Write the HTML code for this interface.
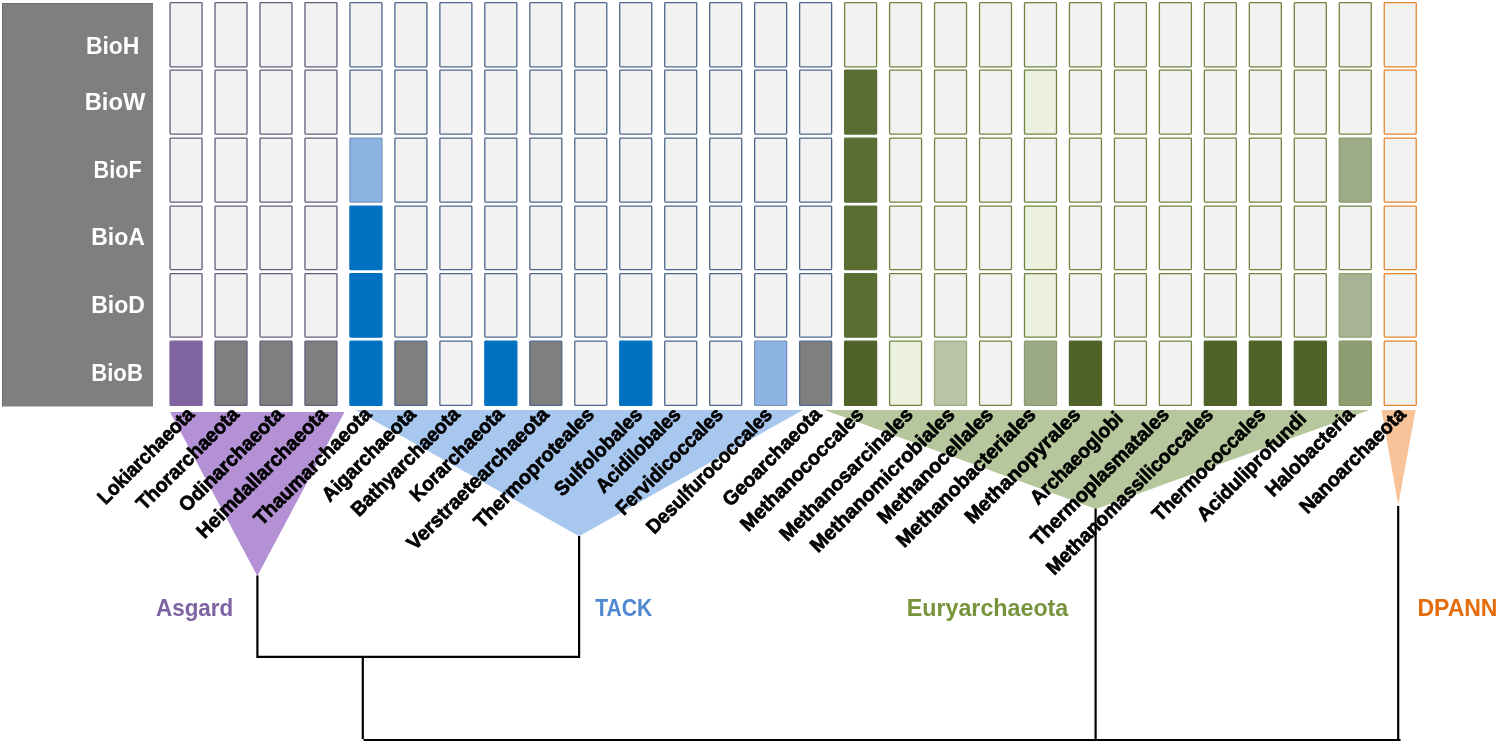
<!DOCTYPE html>
<html lang="en"><head><meta charset="utf-8"><title>Biotin synthesis genes in Archaea</title>
<style>
html,body{margin:0;padding:0;background:#fff;}
body{width:1500px;height:746px;overflow:hidden;}
svg{display:block;}
text{font-family:"Liberation Sans",sans-serif;font-weight:bold;}
.rl{font-size:23px;fill:#fff;}
.cl{font-size:20px;fill:#000;stroke:#000;stroke-width:0.7px;}
.gl{font-size:24.2px;}
</style></head><body>
<svg width="1500" height="746" viewBox="0 0 1500 746">
<rect x="0" y="0" width="1500" height="746" fill="#ffffff"/>
<polygon points="170,412 344.5,412 257.3,576" fill="#b391d4"/>
<polygon points="355.5,410 803,410 579.1,536.2" fill="#a7c7ee"/>
<polygon points="824.5,410 1369.5,410 1096,509" fill="#b7c79d"/>
<polygon points="1381.5,410 1415.6,410 1398.2,505" fill="#f9c39a"/>
<rect x="2" y="3" width="151" height="403.5" fill="#7f7f7f"/>
<path d="M2.5 406.5V3.5H153" fill="none" stroke="#6c6c6c" stroke-width="1"/>
<rect x="170.05" y="2.55" width="32.00" height="64.30" rx="0.8" fill="#f2f2f2" stroke="#675c7d" stroke-width="1.3"/>
<rect x="215.02" y="2.55" width="32.00" height="64.30" rx="0.8" fill="#f2f2f2" stroke="#675c7d" stroke-width="1.3"/>
<rect x="259.99" y="2.55" width="32.00" height="64.30" rx="0.8" fill="#f2f2f2" stroke="#675c7d" stroke-width="1.3"/>
<rect x="304.96" y="2.55" width="32.00" height="64.30" rx="0.8" fill="#f2f2f2" stroke="#675c7d" stroke-width="1.3"/>
<rect x="349.93" y="2.55" width="32.00" height="64.30" rx="0.8" fill="#f2f2f2" stroke="#4e678e" stroke-width="1.3"/>
<rect x="394.90" y="2.55" width="32.00" height="64.30" rx="0.8" fill="#f2f2f2" stroke="#4e678e" stroke-width="1.3"/>
<rect x="439.87" y="2.55" width="32.00" height="64.30" rx="0.8" fill="#f2f2f2" stroke="#4e678e" stroke-width="1.3"/>
<rect x="484.84" y="2.55" width="32.00" height="64.30" rx="0.8" fill="#f2f2f2" stroke="#4e678e" stroke-width="1.3"/>
<rect x="529.81" y="2.55" width="32.00" height="64.30" rx="0.8" fill="#f2f2f2" stroke="#4e678e" stroke-width="1.3"/>
<rect x="574.78" y="2.55" width="32.00" height="64.30" rx="0.8" fill="#f2f2f2" stroke="#4e678e" stroke-width="1.3"/>
<rect x="619.75" y="2.55" width="32.00" height="64.30" rx="0.8" fill="#f2f2f2" stroke="#4e678e" stroke-width="1.3"/>
<rect x="664.72" y="2.55" width="32.00" height="64.30" rx="0.8" fill="#f2f2f2" stroke="#4e678e" stroke-width="1.3"/>
<rect x="709.69" y="2.55" width="32.00" height="64.30" rx="0.8" fill="#f2f2f2" stroke="#4e678e" stroke-width="1.3"/>
<rect x="754.66" y="2.55" width="32.00" height="64.30" rx="0.8" fill="#f2f2f2" stroke="#4e678e" stroke-width="1.3"/>
<rect x="799.63" y="2.55" width="32.00" height="64.30" rx="0.8" fill="#f2f2f2" stroke="#4e678e" stroke-width="1.3"/>
<rect x="844.60" y="2.55" width="32.00" height="64.30" rx="0.8" fill="#f2f2f2" stroke="#72843f" stroke-width="1.3"/>
<rect x="889.57" y="2.55" width="32.00" height="64.30" rx="0.8" fill="#f2f2f2" stroke="#72843f" stroke-width="1.3"/>
<rect x="934.54" y="2.55" width="32.00" height="64.30" rx="0.8" fill="#f2f2f2" stroke="#72843f" stroke-width="1.3"/>
<rect x="979.51" y="2.55" width="32.00" height="64.30" rx="0.8" fill="#f2f2f2" stroke="#72843f" stroke-width="1.3"/>
<rect x="1024.48" y="2.55" width="32.00" height="64.30" rx="0.8" fill="#f2f2f2" stroke="#72843f" stroke-width="1.3"/>
<rect x="1069.45" y="2.55" width="32.00" height="64.30" rx="0.8" fill="#f2f2f2" stroke="#72843f" stroke-width="1.3"/>
<rect x="1114.42" y="2.55" width="32.00" height="64.30" rx="0.8" fill="#f2f2f2" stroke="#72843f" stroke-width="1.3"/>
<rect x="1159.39" y="2.55" width="32.00" height="64.30" rx="0.8" fill="#f2f2f2" stroke="#72843f" stroke-width="1.3"/>
<rect x="1204.36" y="2.55" width="32.00" height="64.30" rx="0.8" fill="#f2f2f2" stroke="#72843f" stroke-width="1.3"/>
<rect x="1249.33" y="2.55" width="32.00" height="64.30" rx="0.8" fill="#f2f2f2" stroke="#72843f" stroke-width="1.3"/>
<rect x="1294.30" y="2.55" width="32.00" height="64.30" rx="0.8" fill="#f2f2f2" stroke="#72843f" stroke-width="1.3"/>
<rect x="1339.27" y="2.55" width="32.00" height="64.30" rx="0.8" fill="#f2f2f2" stroke="#72843f" stroke-width="1.3"/>
<rect x="1384.24" y="2.55" width="32.00" height="64.30" rx="0.8" fill="#f2f2f2" stroke="#e4872f" stroke-width="1.3"/>
<rect x="170.05" y="70.05" width="32.00" height="64.00" rx="0.8" fill="#f2f2f2" stroke="#675c7d" stroke-width="1.3"/>
<rect x="215.02" y="70.05" width="32.00" height="64.00" rx="0.8" fill="#f2f2f2" stroke="#675c7d" stroke-width="1.3"/>
<rect x="259.99" y="70.05" width="32.00" height="64.00" rx="0.8" fill="#f2f2f2" stroke="#675c7d" stroke-width="1.3"/>
<rect x="304.96" y="70.05" width="32.00" height="64.00" rx="0.8" fill="#f2f2f2" stroke="#675c7d" stroke-width="1.3"/>
<rect x="349.93" y="70.05" width="32.00" height="64.00" rx="0.8" fill="#f2f2f2" stroke="#4e678e" stroke-width="1.3"/>
<rect x="394.90" y="70.05" width="32.00" height="64.00" rx="0.8" fill="#f2f2f2" stroke="#4e678e" stroke-width="1.3"/>
<rect x="439.87" y="70.05" width="32.00" height="64.00" rx="0.8" fill="#f2f2f2" stroke="#4e678e" stroke-width="1.3"/>
<rect x="484.84" y="70.05" width="32.00" height="64.00" rx="0.8" fill="#f2f2f2" stroke="#4e678e" stroke-width="1.3"/>
<rect x="529.81" y="70.05" width="32.00" height="64.00" rx="0.8" fill="#f2f2f2" stroke="#4e678e" stroke-width="1.3"/>
<rect x="574.78" y="70.05" width="32.00" height="64.00" rx="0.8" fill="#f2f2f2" stroke="#4e678e" stroke-width="1.3"/>
<rect x="619.75" y="70.05" width="32.00" height="64.00" rx="0.8" fill="#f2f2f2" stroke="#4e678e" stroke-width="1.3"/>
<rect x="664.72" y="70.05" width="32.00" height="64.00" rx="0.8" fill="#f2f2f2" stroke="#4e678e" stroke-width="1.3"/>
<rect x="709.69" y="70.05" width="32.00" height="64.00" rx="0.8" fill="#f2f2f2" stroke="#4e678e" stroke-width="1.3"/>
<rect x="754.66" y="70.05" width="32.00" height="64.00" rx="0.8" fill="#f2f2f2" stroke="#4e678e" stroke-width="1.3"/>
<rect x="799.63" y="70.05" width="32.00" height="64.00" rx="0.8" fill="#f2f2f2" stroke="#4e678e" stroke-width="1.3"/>
<rect x="844.60" y="70.05" width="32.00" height="64.00" rx="0.8" fill="#5a6e34" stroke="#5a6e34" stroke-width="1.3"/>
<rect x="889.57" y="70.05" width="32.00" height="64.00" rx="0.8" fill="#f2f2f2" stroke="#72843f" stroke-width="1.3"/>
<rect x="934.54" y="70.05" width="32.00" height="64.00" rx="0.8" fill="#f2f2f2" stroke="#72843f" stroke-width="1.3"/>
<rect x="979.51" y="70.05" width="32.00" height="64.00" rx="0.8" fill="#f2f2f2" stroke="#72843f" stroke-width="1.3"/>
<rect x="1024.48" y="70.05" width="32.00" height="64.00" rx="0.8" fill="#ebf0df" stroke="#72843f" stroke-width="1.3"/>
<rect x="1069.45" y="70.05" width="32.00" height="64.00" rx="0.8" fill="#f2f2f2" stroke="#72843f" stroke-width="1.3"/>
<rect x="1114.42" y="70.05" width="32.00" height="64.00" rx="0.8" fill="#f2f2f2" stroke="#72843f" stroke-width="1.3"/>
<rect x="1159.39" y="70.05" width="32.00" height="64.00" rx="0.8" fill="#f2f2f2" stroke="#72843f" stroke-width="1.3"/>
<rect x="1204.36" y="70.05" width="32.00" height="64.00" rx="0.8" fill="#f2f2f2" stroke="#72843f" stroke-width="1.3"/>
<rect x="1249.33" y="70.05" width="32.00" height="64.00" rx="0.8" fill="#f2f2f2" stroke="#72843f" stroke-width="1.3"/>
<rect x="1294.30" y="70.05" width="32.00" height="64.00" rx="0.8" fill="#f2f2f2" stroke="#72843f" stroke-width="1.3"/>
<rect x="1339.27" y="70.05" width="32.00" height="64.00" rx="0.8" fill="#f2f2f2" stroke="#72843f" stroke-width="1.3"/>
<rect x="1384.24" y="70.05" width="32.00" height="64.00" rx="0.8" fill="#f2f2f2" stroke="#e4872f" stroke-width="1.3"/>
<rect x="170.05" y="138.15" width="32.00" height="64.00" rx="0.8" fill="#f2f2f2" stroke="#675c7d" stroke-width="1.3"/>
<rect x="215.02" y="138.15" width="32.00" height="64.00" rx="0.8" fill="#f2f2f2" stroke="#675c7d" stroke-width="1.3"/>
<rect x="259.99" y="138.15" width="32.00" height="64.00" rx="0.8" fill="#f2f2f2" stroke="#675c7d" stroke-width="1.3"/>
<rect x="304.96" y="138.15" width="32.00" height="64.00" rx="0.8" fill="#f2f2f2" stroke="#675c7d" stroke-width="1.3"/>
<rect x="349.93" y="138.15" width="32.00" height="64.00" rx="0.8" fill="#8eb4e3" stroke="#7495c1" stroke-width="1.3"/>
<rect x="394.90" y="138.15" width="32.00" height="64.00" rx="0.8" fill="#f2f2f2" stroke="#4e678e" stroke-width="1.3"/>
<rect x="439.87" y="138.15" width="32.00" height="64.00" rx="0.8" fill="#f2f2f2" stroke="#4e678e" stroke-width="1.3"/>
<rect x="484.84" y="138.15" width="32.00" height="64.00" rx="0.8" fill="#f2f2f2" stroke="#4e678e" stroke-width="1.3"/>
<rect x="529.81" y="138.15" width="32.00" height="64.00" rx="0.8" fill="#f2f2f2" stroke="#4e678e" stroke-width="1.3"/>
<rect x="574.78" y="138.15" width="32.00" height="64.00" rx="0.8" fill="#f2f2f2" stroke="#4e678e" stroke-width="1.3"/>
<rect x="619.75" y="138.15" width="32.00" height="64.00" rx="0.8" fill="#f2f2f2" stroke="#4e678e" stroke-width="1.3"/>
<rect x="664.72" y="138.15" width="32.00" height="64.00" rx="0.8" fill="#f2f2f2" stroke="#4e678e" stroke-width="1.3"/>
<rect x="709.69" y="138.15" width="32.00" height="64.00" rx="0.8" fill="#f2f2f2" stroke="#4e678e" stroke-width="1.3"/>
<rect x="754.66" y="138.15" width="32.00" height="64.00" rx="0.8" fill="#f2f2f2" stroke="#4e678e" stroke-width="1.3"/>
<rect x="799.63" y="138.15" width="32.00" height="64.00" rx="0.8" fill="#f2f2f2" stroke="#4e678e" stroke-width="1.3"/>
<rect x="844.60" y="138.15" width="32.00" height="64.00" rx="0.8" fill="#5a6e34" stroke="#5a6e34" stroke-width="1.3"/>
<rect x="889.57" y="138.15" width="32.00" height="64.00" rx="0.8" fill="#f2f2f2" stroke="#72843f" stroke-width="1.3"/>
<rect x="934.54" y="138.15" width="32.00" height="64.00" rx="0.8" fill="#f2f2f2" stroke="#72843f" stroke-width="1.3"/>
<rect x="979.51" y="138.15" width="32.00" height="64.00" rx="0.8" fill="#f2f2f2" stroke="#72843f" stroke-width="1.3"/>
<rect x="1024.48" y="138.15" width="32.00" height="64.00" rx="0.8" fill="#f2f2f2" stroke="#72843f" stroke-width="1.3"/>
<rect x="1069.45" y="138.15" width="32.00" height="64.00" rx="0.8" fill="#f2f2f2" stroke="#72843f" stroke-width="1.3"/>
<rect x="1114.42" y="138.15" width="32.00" height="64.00" rx="0.8" fill="#f2f2f2" stroke="#72843f" stroke-width="1.3"/>
<rect x="1159.39" y="138.15" width="32.00" height="64.00" rx="0.8" fill="#f2f2f2" stroke="#72843f" stroke-width="1.3"/>
<rect x="1204.36" y="138.15" width="32.00" height="64.00" rx="0.8" fill="#f2f2f2" stroke="#72843f" stroke-width="1.3"/>
<rect x="1249.33" y="138.15" width="32.00" height="64.00" rx="0.8" fill="#f2f2f2" stroke="#72843f" stroke-width="1.3"/>
<rect x="1294.30" y="138.15" width="32.00" height="64.00" rx="0.8" fill="#f2f2f2" stroke="#72843f" stroke-width="1.3"/>
<rect x="1339.27" y="138.15" width="32.00" height="64.00" rx="0.8" fill="#9dab86" stroke="#8b9b69" stroke-width="1.3"/>
<rect x="1384.24" y="138.15" width="32.00" height="64.00" rx="0.8" fill="#f2f2f2" stroke="#e4872f" stroke-width="1.3"/>
<rect x="170.05" y="206.05" width="32.00" height="63.50" rx="0.8" fill="#f2f2f2" stroke="#675c7d" stroke-width="1.3"/>
<rect x="215.02" y="206.05" width="32.00" height="63.50" rx="0.8" fill="#f2f2f2" stroke="#675c7d" stroke-width="1.3"/>
<rect x="259.99" y="206.05" width="32.00" height="63.50" rx="0.8" fill="#f2f2f2" stroke="#675c7d" stroke-width="1.3"/>
<rect x="304.96" y="206.05" width="32.00" height="63.50" rx="0.8" fill="#f2f2f2" stroke="#675c7d" stroke-width="1.3"/>
<rect x="349.93" y="206.05" width="32.00" height="63.50" rx="0.8" fill="#0070c0" stroke="#0070c0" stroke-width="1.3"/>
<rect x="394.90" y="206.05" width="32.00" height="63.50" rx="0.8" fill="#f2f2f2" stroke="#4e678e" stroke-width="1.3"/>
<rect x="439.87" y="206.05" width="32.00" height="63.50" rx="0.8" fill="#f2f2f2" stroke="#4e678e" stroke-width="1.3"/>
<rect x="484.84" y="206.05" width="32.00" height="63.50" rx="0.8" fill="#f2f2f2" stroke="#4e678e" stroke-width="1.3"/>
<rect x="529.81" y="206.05" width="32.00" height="63.50" rx="0.8" fill="#f2f2f2" stroke="#4e678e" stroke-width="1.3"/>
<rect x="574.78" y="206.05" width="32.00" height="63.50" rx="0.8" fill="#f2f2f2" stroke="#4e678e" stroke-width="1.3"/>
<rect x="619.75" y="206.05" width="32.00" height="63.50" rx="0.8" fill="#f2f2f2" stroke="#4e678e" stroke-width="1.3"/>
<rect x="664.72" y="206.05" width="32.00" height="63.50" rx="0.8" fill="#f2f2f2" stroke="#4e678e" stroke-width="1.3"/>
<rect x="709.69" y="206.05" width="32.00" height="63.50" rx="0.8" fill="#f2f2f2" stroke="#4e678e" stroke-width="1.3"/>
<rect x="754.66" y="206.05" width="32.00" height="63.50" rx="0.8" fill="#f2f2f2" stroke="#4e678e" stroke-width="1.3"/>
<rect x="799.63" y="206.05" width="32.00" height="63.50" rx="0.8" fill="#f2f2f2" stroke="#4e678e" stroke-width="1.3"/>
<rect x="844.60" y="206.05" width="32.00" height="63.50" rx="0.8" fill="#5a6e34" stroke="#5a6e34" stroke-width="1.3"/>
<rect x="889.57" y="206.05" width="32.00" height="63.50" rx="0.8" fill="#f2f2f2" stroke="#72843f" stroke-width="1.3"/>
<rect x="934.54" y="206.05" width="32.00" height="63.50" rx="0.8" fill="#f2f2f2" stroke="#72843f" stroke-width="1.3"/>
<rect x="979.51" y="206.05" width="32.00" height="63.50" rx="0.8" fill="#f2f2f2" stroke="#72843f" stroke-width="1.3"/>
<rect x="1024.48" y="206.05" width="32.00" height="63.50" rx="0.8" fill="#ebf0df" stroke="#72843f" stroke-width="1.3"/>
<rect x="1069.45" y="206.05" width="32.00" height="63.50" rx="0.8" fill="#f2f2f2" stroke="#72843f" stroke-width="1.3"/>
<rect x="1114.42" y="206.05" width="32.00" height="63.50" rx="0.8" fill="#f2f2f2" stroke="#72843f" stroke-width="1.3"/>
<rect x="1159.39" y="206.05" width="32.00" height="63.50" rx="0.8" fill="#f2f2f2" stroke="#72843f" stroke-width="1.3"/>
<rect x="1204.36" y="206.05" width="32.00" height="63.50" rx="0.8" fill="#f2f2f2" stroke="#72843f" stroke-width="1.3"/>
<rect x="1249.33" y="206.05" width="32.00" height="63.50" rx="0.8" fill="#f2f2f2" stroke="#72843f" stroke-width="1.3"/>
<rect x="1294.30" y="206.05" width="32.00" height="63.50" rx="0.8" fill="#f2f2f2" stroke="#72843f" stroke-width="1.3"/>
<rect x="1339.27" y="206.05" width="32.00" height="63.50" rx="0.8" fill="#f2f2f2" stroke="#72843f" stroke-width="1.3"/>
<rect x="1384.24" y="206.05" width="32.00" height="63.50" rx="0.8" fill="#f2f2f2" stroke="#e4872f" stroke-width="1.3"/>
<rect x="170.05" y="273.55" width="32.00" height="63.60" rx="0.8" fill="#f2f2f2" stroke="#675c7d" stroke-width="1.3"/>
<rect x="215.02" y="273.55" width="32.00" height="63.60" rx="0.8" fill="#f2f2f2" stroke="#675c7d" stroke-width="1.3"/>
<rect x="259.99" y="273.55" width="32.00" height="63.60" rx="0.8" fill="#f2f2f2" stroke="#675c7d" stroke-width="1.3"/>
<rect x="304.96" y="273.55" width="32.00" height="63.60" rx="0.8" fill="#f2f2f2" stroke="#675c7d" stroke-width="1.3"/>
<rect x="349.93" y="273.55" width="32.00" height="63.60" rx="0.8" fill="#0070c0" stroke="#0070c0" stroke-width="1.3"/>
<rect x="394.90" y="273.55" width="32.00" height="63.60" rx="0.8" fill="#f2f2f2" stroke="#4e678e" stroke-width="1.3"/>
<rect x="439.87" y="273.55" width="32.00" height="63.60" rx="0.8" fill="#f2f2f2" stroke="#4e678e" stroke-width="1.3"/>
<rect x="484.84" y="273.55" width="32.00" height="63.60" rx="0.8" fill="#f2f2f2" stroke="#4e678e" stroke-width="1.3"/>
<rect x="529.81" y="273.55" width="32.00" height="63.60" rx="0.8" fill="#f2f2f2" stroke="#4e678e" stroke-width="1.3"/>
<rect x="574.78" y="273.55" width="32.00" height="63.60" rx="0.8" fill="#f2f2f2" stroke="#4e678e" stroke-width="1.3"/>
<rect x="619.75" y="273.55" width="32.00" height="63.60" rx="0.8" fill="#f2f2f2" stroke="#4e678e" stroke-width="1.3"/>
<rect x="664.72" y="273.55" width="32.00" height="63.60" rx="0.8" fill="#f2f2f2" stroke="#4e678e" stroke-width="1.3"/>
<rect x="709.69" y="273.55" width="32.00" height="63.60" rx="0.8" fill="#f2f2f2" stroke="#4e678e" stroke-width="1.3"/>
<rect x="754.66" y="273.55" width="32.00" height="63.60" rx="0.8" fill="#f2f2f2" stroke="#4e678e" stroke-width="1.3"/>
<rect x="799.63" y="273.55" width="32.00" height="63.60" rx="0.8" fill="#f2f2f2" stroke="#4e678e" stroke-width="1.3"/>
<rect x="844.60" y="273.55" width="32.00" height="63.60" rx="0.8" fill="#5a6e34" stroke="#5a6e34" stroke-width="1.3"/>
<rect x="889.57" y="273.55" width="32.00" height="63.60" rx="0.8" fill="#f2f2f2" stroke="#72843f" stroke-width="1.3"/>
<rect x="934.54" y="273.55" width="32.00" height="63.60" rx="0.8" fill="#f2f2f2" stroke="#72843f" stroke-width="1.3"/>
<rect x="979.51" y="273.55" width="32.00" height="63.60" rx="0.8" fill="#f2f2f2" stroke="#72843f" stroke-width="1.3"/>
<rect x="1024.48" y="273.55" width="32.00" height="63.60" rx="0.8" fill="#ebf0df" stroke="#72843f" stroke-width="1.3"/>
<rect x="1069.45" y="273.55" width="32.00" height="63.60" rx="0.8" fill="#f2f2f2" stroke="#72843f" stroke-width="1.3"/>
<rect x="1114.42" y="273.55" width="32.00" height="63.60" rx="0.8" fill="#f2f2f2" stroke="#72843f" stroke-width="1.3"/>
<rect x="1159.39" y="273.55" width="32.00" height="63.60" rx="0.8" fill="#f2f2f2" stroke="#72843f" stroke-width="1.3"/>
<rect x="1204.36" y="273.55" width="32.00" height="63.60" rx="0.8" fill="#f2f2f2" stroke="#72843f" stroke-width="1.3"/>
<rect x="1249.33" y="273.55" width="32.00" height="63.60" rx="0.8" fill="#f2f2f2" stroke="#72843f" stroke-width="1.3"/>
<rect x="1294.30" y="273.55" width="32.00" height="63.60" rx="0.8" fill="#f2f2f2" stroke="#72843f" stroke-width="1.3"/>
<rect x="1339.27" y="273.55" width="32.00" height="63.60" rx="0.8" fill="#a7b392" stroke="#91a070" stroke-width="1.3"/>
<rect x="1384.24" y="273.55" width="32.00" height="63.60" rx="0.8" fill="#f2f2f2" stroke="#e4872f" stroke-width="1.3"/>
<rect x="170.05" y="341.15" width="32.00" height="64.30" rx="0.8" fill="#8064a2" stroke="#8064a2" stroke-width="1.3"/>
<rect x="215.02" y="341.15" width="32.00" height="64.30" rx="0.8" fill="#7f7f7f" stroke="#675c7d" stroke-width="1.3"/>
<rect x="259.99" y="341.15" width="32.00" height="64.30" rx="0.8" fill="#7f7f7f" stroke="#675c7d" stroke-width="1.3"/>
<rect x="304.96" y="341.15" width="32.00" height="64.30" rx="0.8" fill="#7f7f7f" stroke="#675c7d" stroke-width="1.3"/>
<rect x="349.93" y="341.15" width="32.00" height="64.30" rx="0.8" fill="#0070c0" stroke="#0070c0" stroke-width="1.3"/>
<rect x="394.90" y="341.15" width="32.00" height="64.30" rx="0.8" fill="#7f7f7f" stroke="#4e678e" stroke-width="1.3"/>
<rect x="439.87" y="341.15" width="32.00" height="64.30" rx="0.8" fill="#f2f2f2" stroke="#4e678e" stroke-width="1.3"/>
<rect x="484.84" y="341.15" width="32.00" height="64.30" rx="0.8" fill="#0070c0" stroke="#0070c0" stroke-width="1.3"/>
<rect x="529.81" y="341.15" width="32.00" height="64.30" rx="0.8" fill="#7f7f7f" stroke="#4e678e" stroke-width="1.3"/>
<rect x="574.78" y="341.15" width="32.00" height="64.30" rx="0.8" fill="#f2f2f2" stroke="#4e678e" stroke-width="1.3"/>
<rect x="619.75" y="341.15" width="32.00" height="64.30" rx="0.8" fill="#0070c0" stroke="#0070c0" stroke-width="1.3"/>
<rect x="664.72" y="341.15" width="32.00" height="64.30" rx="0.8" fill="#f2f2f2" stroke="#4e678e" stroke-width="1.3"/>
<rect x="709.69" y="341.15" width="32.00" height="64.30" rx="0.8" fill="#f2f2f2" stroke="#4e678e" stroke-width="1.3"/>
<rect x="754.66" y="341.15" width="32.00" height="64.30" rx="0.8" fill="#8eb4e3" stroke="#7495c1" stroke-width="1.3"/>
<rect x="799.63" y="341.15" width="32.00" height="64.30" rx="0.8" fill="#7f7f7f" stroke="#4e678e" stroke-width="1.3"/>
<rect x="844.60" y="341.15" width="32.00" height="64.30" rx="0.8" fill="#4f6228" stroke="#4f6228" stroke-width="1.3"/>
<rect x="889.57" y="341.15" width="32.00" height="64.30" rx="0.8" fill="#ebf1de" stroke="#72843f" stroke-width="1.3"/>
<rect x="934.54" y="341.15" width="32.00" height="64.30" rx="0.8" fill="#b9c4a7" stroke="#9caa7d" stroke-width="1.3"/>
<rect x="979.51" y="341.15" width="32.00" height="64.30" rx="0.8" fill="#f2f2f2" stroke="#72843f" stroke-width="1.3"/>
<rect x="1024.48" y="341.15" width="32.00" height="64.30" rx="0.8" fill="#9daa87" stroke="#8b9a6a" stroke-width="1.3"/>
<rect x="1069.45" y="341.15" width="32.00" height="64.30" rx="0.8" fill="#4f6228" stroke="#4f6228" stroke-width="1.3"/>
<rect x="1114.42" y="341.15" width="32.00" height="64.30" rx="0.8" fill="#f2f2f2" stroke="#72843f" stroke-width="1.3"/>
<rect x="1159.39" y="341.15" width="32.00" height="64.30" rx="0.8" fill="#f2f2f2" stroke="#72843f" stroke-width="1.3"/>
<rect x="1204.36" y="341.15" width="32.00" height="64.30" rx="0.8" fill="#4f6228" stroke="#4f6228" stroke-width="1.3"/>
<rect x="1249.33" y="341.15" width="32.00" height="64.30" rx="0.8" fill="#4f6228" stroke="#4f6228" stroke-width="1.3"/>
<rect x="1294.30" y="341.15" width="32.00" height="64.30" rx="0.8" fill="#4f6228" stroke="#4f6228" stroke-width="1.3"/>
<rect x="1339.27" y="341.15" width="32.00" height="64.30" rx="0.8" fill="#8e9e72" stroke="#82935d" stroke-width="1.3"/>
<rect x="1384.24" y="341.15" width="32.00" height="64.30" rx="0.8" fill="#f2f2f2" stroke="#e4872f" stroke-width="1.3"/>
<text class="rl" x="85.9" y="53.6" textLength="53.5" lengthAdjust="spacingAndGlyphs">BioH</text>
<text class="rl" x="84.7" y="109.9" textLength="60.7" lengthAdjust="spacingAndGlyphs">BioW</text>
<text class="rl" x="93.6" y="178.0" textLength="48.2" lengthAdjust="spacingAndGlyphs">BioF</text>
<text class="rl" x="91.2" y="245.3" textLength="53.7" lengthAdjust="spacingAndGlyphs">BioA</text>
<text class="rl" x="91.2" y="313.2" textLength="53.7" lengthAdjust="spacingAndGlyphs">BioD</text>
<text class="rl" x="91.2" y="381.0" textLength="51.7" lengthAdjust="spacingAndGlyphs">BioB</text>
<text class="cl" text-anchor="end" transform="translate(195.4 415.5) rotate(-45) scale(0.9389 1)">Lokiarchaeota</text>
<text class="cl" text-anchor="end" transform="translate(240.2 415.5) rotate(-45) scale(0.9767 1)">Thorarchaeota</text>
<text class="cl" text-anchor="end" transform="translate(284.4 415.5) rotate(-45) scale(0.9855 1)">Odinarchaeota</text>
<text class="cl" text-anchor="end" transform="translate(328.6 415.5) rotate(-45) scale(0.9868 1)">Heimdallarchaeota</text>
<text class="cl" text-anchor="end" transform="translate(372.8 415.5) rotate(-45) scale(0.9815 1)">Thaumarchaeota</text>
<text class="cl" text-anchor="end" transform="translate(417.0 415.5) rotate(-45) scale(0.9733 1)">Aigarchaeota</text>
<text class="cl" text-anchor="end" transform="translate(461.0 415.5) rotate(-45) scale(0.9619 1)">Bathyarchaeota</text>
<text class="cl" text-anchor="end" transform="translate(505.2 415.5) rotate(-45) scale(0.9589 1)">Korarchaeota</text>
<text class="cl" text-anchor="end" transform="translate(550.2 415.5) rotate(-45) scale(1.0022 1)">Verstraetearchaeota</text>
<text class="cl" text-anchor="end" transform="translate(595.4 415.8) rotate(-45) scale(0.9912 1)">Thermoproteales</text>
<text class="cl" text-anchor="end" transform="translate(643.6 415.8) rotate(-45) scale(0.9686 1)">Sulfolobales</text>
<text class="cl" text-anchor="end" transform="translate(681.9 415.8) rotate(-45) scale(0.9397 1)">Acidilobales</text>
<text class="cl" text-anchor="end" transform="translate(724.1 415.8) rotate(-45) scale(0.9465 1)">Fervidicoccales</text>
<text class="cl" text-anchor="end" transform="translate(773.3 415.8) rotate(-45) scale(0.9483 1)">Desulfurococcales</text>
<text class="cl" text-anchor="end" transform="translate(822.6 415.5) rotate(-45) scale(0.9765 1)">Geoarchaeota</text>
<text class="cl" text-anchor="end" transform="translate(864.9 415.8) rotate(-45) scale(0.9901 1)">Methanococcales</text>
<text class="cl" text-anchor="end" transform="translate(914.0 415.8) rotate(-45) scale(0.9936 1)">Methanosarcinales</text>
<text class="cl" text-anchor="end" transform="translate(955.8 415.8) rotate(-45) scale(1.0078 1)">Methanomicrobiales</text>
<text class="cl" text-anchor="end" transform="translate(994.4 415.8) rotate(-45) scale(0.9991 1)">Methanocellales</text>
<text class="cl" text-anchor="end" transform="translate(1037.0 415.8) rotate(-45) scale(1.0062 1)">Methanobacteriales</text>
<text class="cl" text-anchor="end" transform="translate(1081.7 415.8) rotate(-45) scale(1.0133 1)">Methanopyrales</text>
<text class="cl" text-anchor="end" transform="translate(1124.1 419.8) rotate(-45) scale(0.9529 1)">Archaeoglobi</text>
<text class="cl" text-anchor="end" transform="translate(1170.2 415.8) rotate(-45) scale(0.9905 1)">Thermoplasmatales</text>
<text class="cl" text-anchor="end" transform="translate(1214.4 415.8) rotate(-45) scale(0.9658 1)">Methanomassilicoccales</text>
<text class="cl" text-anchor="end" transform="translate(1266.7 415.8) rotate(-45) scale(0.9573 1)">Thermococcales</text>
<text class="cl" text-anchor="end" transform="translate(1307.4 419.8) rotate(-45) scale(0.9845 1)">Aciduliprofundi</text>
<text class="cl" text-anchor="end" transform="translate(1355.6 415.5) rotate(-45) scale(0.9707 1)">Halobacteria</text>
<text class="cl" text-anchor="end" transform="translate(1406.8 415.5) rotate(-45) scale(0.9723 1)">Nanoarchaeota</text>
<g fill="none" stroke="#000" stroke-width="2.2">
<path d="M257.4 575.5V656.9H579.1V536"/>
<path d="M362.8 656.9V739"/>
<path d="M363.5 740H1400.6"/>
<path d="M1398.2 506V741"/>
<path d="M1095.6 508.5V739"/>
</g>
<text class="gl" x="156.0" y="616.0" textLength="77.2" lengthAdjust="spacingAndGlyphs" fill="#7e63a3">Asgard</text>
<text class="gl" x="595.3" y="616.0" textLength="57.0" lengthAdjust="spacingAndGlyphs" fill="#5087d2">TACK</text>
<text class="gl" x="906.7" y="616.0" textLength="161.6" lengthAdjust="spacingAndGlyphs" fill="#77933c">Euryarchaeota</text>
<text class="gl" x="1417.4" y="616.0" textLength="80.1" lengthAdjust="spacingAndGlyphs" fill="#e46c0a">DPANN</text>
</svg>
</body></html>
